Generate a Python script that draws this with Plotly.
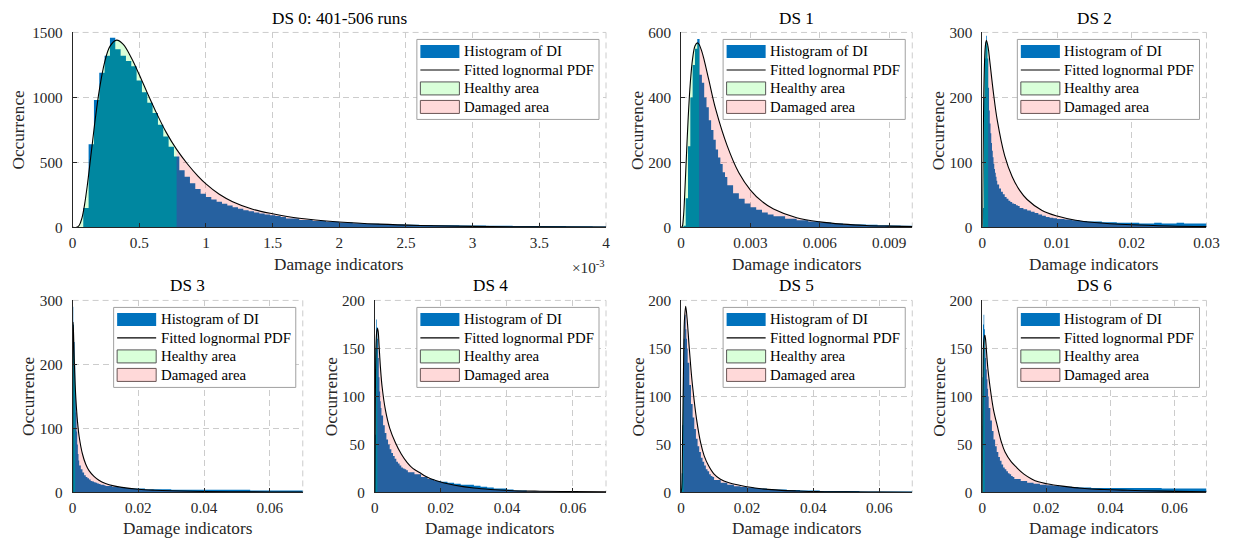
import numpy as np
import plotly.graph_objects as go

W, H = 1233, 545
FONT = "'Liberation Serif', 'Times New Roman', Times, serif"
HIST_COLOR = "#0072BD"
HEALTHY_FILL = "rgba(0,255,0,0.15)"
DAMAGED_FILL = "rgba(255,0,0,0.15)"
AXIS_COLOR = "#262626"
GRID_COLOR = "#cccccc"
TICK_SIZE = 15.2
LEGEND_SIZE = 14.8
TITLE_SIZE = 17.2

# the photographed page lands in the picture as: pic = A + B * page
PIC_XA, PIC_XB = 2.45, 0.98545
PIC_YA, PIC_YB = 8.56, 0.96889

THRESHOLD = 0.78e-3  # healthy / damaged split of the damage indicator


def bins(*segments):
    """Concatenate uniform bin-edge segments (start, stop, n_bins)."""
    parts = []
    for i, (a, b, n) in enumerate(segments):
        e = np.linspace(a, b, n + 1)
        if i < len(segments) - 1:
            e = e[:-1]
        parts.append(e)
    return np.concatenate(parts)


# ---------------------------------------------------------------- DS 0
DS0_EDGES = bins((0.0, 1.6e-3, 40), (1.6e-3, 4.0e-3, 24))
DS0_COUNTS = [0, 0, 150, 640, 980, 1190, 1320, 1460, 1370, 1320,
              1280, 1240, 1130, 1040, 960, 880, 790, 700, 620, 545,
              440, 390, 340, 295, 260, 235, 215, 198, 182, 168,
              155, 143, 133, 124, 115, 107, 100, 93, 87, 81,
              68, 58, 50, 43, 38, 33, 29, 26, 23, 21,
              19, 17, 16, 15, 14, 13, 12, 11, 11, 10,
              10, 9, 9, 8]
DS0_PDF_X = np.array([0, 0.03, 0.05, 0.07, 0.09, 0.11, 0.14, 0.17, 0.2, 0.24,
                      0.28, 0.33, 0.38, 0.44, 0.5, 0.56, 0.62, 0.7, 0.78, 0.86,
                      0.94, 1.0, 1.1, 1.2, 1.35, 1.5, 1.7, 2.0, 2.3, 2.6,
                      3.0, 3.5, 4.0]) * 1e-3
DS0_PDF_Y = [0, 1, 17, 72, 177, 321, 577, 834, 1055, 1270,
             1393, 1441, 1408, 1305, 1175, 1035, 900, 735, 600, 490,
             395, 335, 255, 198, 140, 105, 70, 42, 25, 15,
             8, 4, 2]

# ---------------------------------------------------------------- DS 1
DS1_EDGES = bins((0.0, 0.002, 20), (0.002, 0.004, 8), (0.004, 0.01, 12))
DS1_COUNTS = [0, 5, 90, 250, 400, 500, 550, 580, 470, 445,
              400, 370, 330, 300, 270, 240, 215, 195, 170, 155,
              130, 105, 88, 74, 62, 54, 46, 40,
              34, 27, 22, 18, 15, 12, 10, 9, 8, 7, 6, 5]
DS1_PDF_X = [0, 0.00005, 0.0001, 0.00015, 0.0002, 0.0003, 0.0004, 0.0005, 0.0006, 0.0007,
             0.00078, 0.0009, 0.001, 0.0012, 0.0015, 0.002, 0.0025, 0.003, 0.0035, 0.004,
             0.005, 0.006, 0.007, 0.008, 0.009, 0.01]
DS1_PDF_Y = [0, 3, 30, 91, 169, 326, 446, 520, 558, 568,
             563, 541, 515, 454, 363, 250, 168, 115, 80, 57,
             30, 17, 10, 6, 4, 2.5]

# ---------------------------------------------------------------- DS 2
DS2_EDGES = bins((0.0, 0.002, 20), (0.002, 0.005, 12), (0.005, 0.01, 10), (0.01, 0.03, 20))
DS2_COUNTS = [0, 30, 200, 260, 285, 295, 280, 260, 215, 180,
              160, 145, 130, 118, 108, 98, 90, 84, 78, 72,
              66, 60, 55, 51, 47, 44, 41, 39, 37, 36, 34, 33,
              30, 28, 26, 24, 22, 20, 18, 16, 15, 14,
              13, 12, 11, 10, 9, 9, 8, 8, 7, 7,
              7, 6, 6, 7, 6, 6, 7, 6, 6, 6]
DS2_PDF_X = [0, 0.00002, 0.00005, 0.0001, 0.0002, 0.0003, 0.0004, 0.00055, 0.00078, 0.001,
             0.0015, 0.002, 0.003, 0.004, 0.005, 0.006, 0.008, 0.01, 0.0125, 0.015,
             0.02, 0.025, 0.03]
DS2_PDF_Y = [0, 7, 42, 109, 205, 255, 278, 288, 277, 256,
             206, 165, 110, 78, 57, 43, 26, 17.5, 11, 7.5,
             4, 2.2, 1.4]

# ---------------------------------------------------------------- DS 3..6 (common bins)
FINE_EDGES = bins((0.0, 0.002, 10), (0.002, 0.01, 16), (0.01, 0.07, 30))

DS3_COUNTS = [290, 262, 235, 200, 160, 125, 95, 75, 60, 50,
              42, 36, 31, 27, 24, 22, 20, 18, 17, 16, 15, 14, 13, 12, 12, 11,
              10, 9, 8, 7, 6, 6, 5, 5, 5, 5, 4, 4, 4, 4, 4,
              4, 4, 4, 4, 4, 4, 4, 3, 3, 3, 3, 3, 3, 3, 3]
DS3_PDF_X = [0, 0.00003, 0.00008, 0.00015, 0.0003, 0.0005, 0.00078, 0.001, 0.0015, 0.002,
             0.003, 0.004, 0.005, 0.0065, 0.008, 0.01, 0.0125, 0.015, 0.02, 0.025,
             0.03, 0.04, 0.05, 0.06, 0.07]
DS3_PDF_Y = [0, 173, 249, 266, 246, 209, 169, 146, 110, 87,
             60, 44, 34, 25, 19, 14, 10.2, 7.8, 4.9, 3.4,
             2.5, 1.5, 1.0, 0.7, 0.5]

DS4_COUNTS = [60, 150, 180, 172, 160, 140, 120, 105, 95, 88,
              80, 70, 62, 55, 50, 45, 41, 38, 35, 32, 30, 28, 26, 25, 24, 23,
              21, 19, 16, 14, 12, 11, 10, 9, 8, 8, 7, 6, 5, 4, 4,
              3, 2, 2, 1, 1, 1, 1, 1, 0.5, 0.5, 0.5, 0.5, 0.5, 0.5, 0.5]
DS4_PDF_X = [0, 0.0001, 0.0002, 0.0004, 0.0006, 0.00078, 0.001, 0.0013, 0.0017, 0.0022,
             0.0032, 0.0045, 0.0062, 0.008, 0.0098, 0.0115, 0.0134, 0.0155, 0.0182, 0.021,
             0.0242, 0.03, 0.035, 0.042, 0.05, 0.06, 0.07]
DS4_PDF_Y = [0, 60, 120, 158, 168, 171, 168, 152, 130, 110,
             86, 67, 52, 40, 31, 25, 21, 16.5, 12.6, 9.8,
             7.5, 4.5, 3, 1.8, 1.2, 0.8, 0.6]

DS5_COUNTS = [2, 20, 70, 120, 160, 178, 185, 170, 160, 150,
              135, 112, 92, 78, 66, 56, 48, 42, 36, 32, 28, 24, 22, 19, 17, 16,
              13, 10, 8, 6.5, 5.5, 5, 4.5, 4, 3.5, 3, 3, 2.5, 2.5, 2, 2,
              2, 1.5, 1.5, 1.5, 1.5, 1.5, 1.5, 1, 1, 1, 1, 1, 1, 1, 1]
DS5_PDF_X = [0, 0.0002, 0.0004, 0.0006, 0.00078, 0.001, 0.0014, 0.0018, 0.0024, 0.003,
             0.0035, 0.0047, 0.0059, 0.007, 0.0083, 0.01, 0.0118, 0.0145, 0.0177, 0.0236,
             0.0295, 0.035, 0.041, 0.05, 0.06, 0.07]
DS5_PDF_Y = [0, 5, 40, 95, 140, 178, 194, 182, 154, 128,
             110, 76, 52, 38, 28, 19, 14, 10, 7.5, 4,
             2.4, 1.5, 0.8, 0.5, 0.3, 0.2]

DS6_COUNTS = [120, 175, 185, 170, 150, 140, 128, 118, 108, 100,
              88, 75, 64, 55, 48, 42, 37, 33, 29, 26, 24, 22, 20, 19, 17, 16,
              14, 12, 10, 9, 8, 7.5, 7, 6.5, 6, 5.5, 5, 5, 4.5, 4.5, 4.5,
              4.5, 4.5, 4.5, 4.5, 4.5, 4.5, 4.5, 4.5, 4, 4, 4, 4, 4, 4, 4]
DS6_PDF_X = [0, 0.0001, 0.0002, 0.0004, 0.00078, 0.001, 0.0014, 0.0018, 0.0027, 0.0035,
             0.0047, 0.006, 0.0071, 0.009, 0.0107, 0.013, 0.0154, 0.0175, 0.0201, 0.025,
             0.032, 0.038, 0.0438, 0.05, 0.06, 0.07]
DS6_PDF_Y = [0, 80, 125, 155, 164, 160, 143, 127, 103, 86,
             69, 52, 42, 32, 26, 19, 14, 11, 9, 6.5,
             4, 3, 2.4, 1.8, 1.1, 0.7]

# ---------------------------------------------------------------- labels / ticks
TITLES = ["DS 0: 401-506 runs", "DS 1", "DS 2", "DS 3", "DS 4", "DS 5", "DS 6"]
LEGEND_LABELS = ["Histogram of DI", "Fitted lognormal PDF", "Healthy area", "Damaged area"]
X_LABEL = "Damage indicators"
Y_LABEL = "Occurrence"

DS0_XTICKS = [0, 0.5e-3, 1e-3, 1.5e-3, 2e-3, 2.5e-3, 3e-3, 3.5e-3, 4e-3]
DS0_XTICKTEXT = ["0", "0.5", "1", "1.5", "2", "2.5", "3", "3.5", "4"]
DS1_XTICKS = [0, 0.003, 0.006, 0.009]
DS2_XTICKS = [0, 0.01, 0.02, 0.03]
WIDE_XTICKS = [0, 0.02, 0.04, 0.06]
WIDE_XTICKTEXT = ["0", "0.02", "0.04", "0.06"]

TOP_ROW = (32, 227)
BOTTOM_ROW = (300, 492)

# layout in picture pixels: box = (left, right, top, bottom)
panels = [
    dict(edges=DS0_EDGES, counts=DS0_COUNTS, px=DS0_PDF_X, py=DS0_PDF_Y,
         xr=[0, 4e-3], xt=DS0_XTICKS, xtt=DS0_XTICKTEXT, yr=[0, 1500], yt=[0, 500, 1000, 1500],
         box=(71, 604) + TOP_ROW, ylab_x=17),
    dict(edges=DS1_EDGES, counts=DS1_COUNTS, px=DS1_PDF_X, py=DS1_PDF_Y,
         xr=[0, 0.01], xt=DS1_XTICKS, xtt=["0", "0.003", "0.006", "0.009"], yr=[0, 600], yt=[0, 200, 400, 600],
         box=(679, 910) + TOP_ROW, ylab_x=636),
    dict(edges=DS2_EDGES, counts=DS2_COUNTS, px=DS2_PDF_X, py=DS2_PDF_Y,
         xr=[0, 0.03], xt=DS2_XTICKS, xtt=["0", "0.01", "0.02", "0.03"], yr=[0, 300], yt=[0, 100, 200, 300],
         box=(980, 1204) + TOP_ROW, ylab_x=937),
    dict(edges=FINE_EDGES, counts=DS3_COUNTS, px=DS3_PDF_X, py=DS3_PDF_Y,
         xr=[0, 0.07], xt=WIDE_XTICKS, xtt=WIDE_XTICKTEXT, yr=[0, 300], yt=[0, 100, 200, 300],
         box=(71, 301) + BOTTOM_ROW, ylab_x=27),
    dict(edges=FINE_EDGES, counts=DS4_COUNTS, px=DS4_PDF_X, py=DS4_PDF_Y,
         xr=[0, 0.07], xt=WIDE_XTICKS, xtt=WIDE_XTICKTEXT, yr=[0, 200], yt=[0, 50, 100, 150, 200],
         box=(373, 604) + BOTTOM_ROW, ylab_x=330),
    dict(edges=FINE_EDGES, counts=DS5_COUNTS, px=DS5_PDF_X, py=DS5_PDF_Y,
         xr=[0, 0.07], xt=WIDE_XTICKS, xtt=WIDE_XTICKTEXT, yr=[0, 200], yt=[0, 50, 100, 150, 200],
         box=(679, 910) + BOTTOM_ROW, ylab_x=636),
    dict(edges=FINE_EDGES, counts=DS6_COUNTS, px=DS6_PDF_X, py=DS6_PDF_Y,
         xr=[0, 0.07], xt=WIDE_XTICKS, xtt=WIDE_XTICKTEXT, yr=[0, 200], yt=[0, 50, 100, 150, 200],
         box=(980, 1204) + BOTTOM_ROW, ylab_x=937),
]


def page_x(p):
    return (p - PIC_XA) / PIC_XB


def page_y(p):
    return (p - PIC_YA) / PIC_YB


def fx(p):
    return min(max(page_x(p) / W, 0.0), 1.0)


def fy(p):
    return min(max(1 - page_y(p) / H, 0.0), 1.0)


fig = go.Figure()
shapes = []
annotations = []
layout_axes = {}

for i, p in enumerate(panels):
    n = i + 1
    xid = "x" if n == 1 else f"x{n}"
    yid = "y" if n == 1 else f"y{n}"
    xkey = "xaxis" if n == 1 else f"xaxis{n}"
    ykey = "yaxis" if n == 1 else f"yaxis{n}"
    x0, x1, y0, y1 = p["box"]

    edges = np.asarray(p["edges"], dtype=float)
    counts = list(p["counts"])
    # histogram (step-filled)
    fig.add_trace(go.Scatter(
        x=edges, y=counts + [counts[-1]], mode="lines",
        line=dict(width=0, shape="hv", color=HIST_COLOR),
        fill="tozeroy", fillcolor=HIST_COLOR,
        xaxis=xid, yaxis=yid, hoverinfo="skip", showlegend=False))

    cx = np.asarray(p["px"], dtype=float)
    cy = np.asarray(p["py"], dtype=float)
    hmask = cx <= THRESHOLD + 1e-12
    dmask = cx >= THRESHOLD - 1e-12
    fig.add_trace(go.Scatter(
        x=cx[hmask], y=cy[hmask], mode="lines",
        line=dict(width=0, shape="spline", color="rgba(0,0,0,0)"),
        fill="tozeroy", fillcolor=HEALTHY_FILL,
        xaxis=xid, yaxis=yid, hoverinfo="skip", showlegend=False))
    fig.add_trace(go.Scatter(
        x=cx[dmask], y=cy[dmask], mode="lines",
        line=dict(width=0, shape="spline", color="rgba(0,0,0,0)"),
        fill="tozeroy", fillcolor=DAMAGED_FILL,
        xaxis=xid, yaxis=yid, hoverinfo="skip", showlegend=False))
    fig.add_trace(go.Scatter(
        x=cx, y=cy, mode="lines",
        line=dict(width=1.1, shape="spline", color="black"),
        xaxis=xid, yaxis=yid, hoverinfo="skip", showlegend=False))

    common = dict(
        showgrid=True, gridcolor=GRID_COLOR, griddash="6px,4px", gridwidth=1,
        zeroline=False, showline=True, linecolor=AXIS_COLOR, linewidth=1,
        ticks="inside", ticklen=4, tickcolor=AXIS_COLOR, mirror=False,
        tickfont=dict(family=FONT, size=TICK_SIZE, color=AXIS_COLOR),
    )
    layout_axes[xkey] = dict(domain=[fx(x0), fx(x1)], range=p["xr"], tickvals=p["xt"],
                             ticktext=p["xtt"], anchor=yid, ticklabelstandoff=1, **common)
    layout_axes[ykey] = dict(domain=[fy(y1), fy(y0)], range=p["yr"], tickvals=p["yt"],
                             ticktext=[str(v) for v in p["yt"]], anchor=xid,
                             ticklabelstandoff=6, **common)

    # dashed top / right edges
    shapes.append(dict(type="line", xref=f"{xid} domain", yref=f"{yid} domain",
                       x0=0, x1=1, y0=1, y1=1, layer="below",
                       line=dict(color=GRID_COLOR, width=1, dash="6px,4px")))
    shapes.append(dict(type="line", xref=f"{xid} domain", yref=f"{yid} domain",
                       x0=1, x1=1, y0=1, y1=0, layer="below",
                       line=dict(color=GRID_COLOR, width=1, dash="6px,4px")))

    # titles and axis labels
    title_y = max(y0 - 14.5, 17.8)
    xlab_y = min(y1 + 37, 528.6)
    annotations.append(dict(text=TITLES[i], x=fx((x0 + x1) / 2), y=fy(title_y), xref="paper", yref="paper",
                            xanchor="center", yanchor="middle", showarrow=False,
                            font=dict(family=FONT, size=TITLE_SIZE, color="black")))
    annotations.append(dict(text=X_LABEL, x=fx((x0 + x1) / 2), y=fy(xlab_y), xref="paper", yref="paper",
                            xanchor="center", yanchor="middle", showarrow=False,
                            font=dict(family=FONT, size=TITLE_SIZE, color=AXIS_COLOR)))
    annotations.append(dict(text=Y_LABEL, x=fx(p["ylab_x"]), y=fy((y0 + y1) / 2), xref="paper", yref="paper",
                            xanchor="center", yanchor="middle", showarrow=False, textangle=-90,
                            font=dict(family=FONT, size=TITLE_SIZE, color=AXIS_COLOR)))

    # legend box (drawn manually)
    br = x1 - 7
    bl = br - 182
    bt = y0 + 7
    bb = bt + 80
    shapes.append(dict(type="rect", xref="paper", yref="paper", x0=fx(bl), x1=fx(br), y0=fy(bb), y1=fy(bt),
                       fillcolor="white", line=dict(color="#a0a0a0", width=1), layer="above"))
    rows = [bt + 12, bt + 30.5, bt + 49, bt + 67.5]
    px0, px1 = bl + 3.5, bl + 42.5
    shapes.append(dict(type="rect", xref="paper", yref="paper", x0=fx(px0), x1=fx(px1),
                       y0=fy(rows[0] + 6.5), y1=fy(rows[0] - 6.5),
                       fillcolor=HIST_COLOR, line=dict(width=0), layer="above"))
    shapes.append(dict(type="line", xref="paper", yref="paper", x0=fx(px0), x1=fx(px1),
                       y0=fy(rows[1]), y1=fy(rows[1]), line=dict(color="black", width=1.1), layer="above"))
    shapes.append(dict(type="rect", xref="paper", yref="paper", x0=fx(px0), x1=fx(px1),
                       y0=fy(rows[2] + 6.5), y1=fy(rows[2] - 6.5),
                       fillcolor="#D9FFD9", line=dict(color="#555555", width=1), layer="above"))
    shapes.append(dict(type="rect", xref="paper", yref="paper", x0=fx(px0), x1=fx(px1),
                       y0=fy(rows[3] + 6.5), y1=fy(rows[3] - 6.5),
                       fillcolor="#FFD9D9", line=dict(color="#6a5555", width=1), layer="above"))
    for label, ry in zip(LEGEND_LABELS, rows):
        annotations.append(dict(text=label, x=fx(bl + 45), y=fy(ry), xref="paper", yref="paper",
                                xanchor="left", yanchor="middle", showarrow=False,
                                font=dict(family=FONT, size=LEGEND_SIZE, color="black")))

# exponent label for DS 0
annotations.append(dict(text="×10<sup>-3</sup>", x=fx(605), y=fy(267), xref="paper", yref="paper",
                        xanchor="right", yanchor="middle", showarrow=False,
                        font=dict(family=FONT, size=TICK_SIZE, color=AXIS_COLOR)))

fig.update_layout(
    width=W, height=H, margin=dict(l=0, r=0, t=0, b=0),
    paper_bgcolor="white", plot_bgcolor="white",
    font=dict(family=FONT, size=TICK_SIZE, color=AXIS_COLOR),
    showlegend=False, shapes=shapes, annotations=annotations,
    **layout_axes,
)

fig.write_html("out.html", config={"displayModeBar": False},
               post_script="document.body.style.margin='0px';document.body.style.overflow='hidden';")
